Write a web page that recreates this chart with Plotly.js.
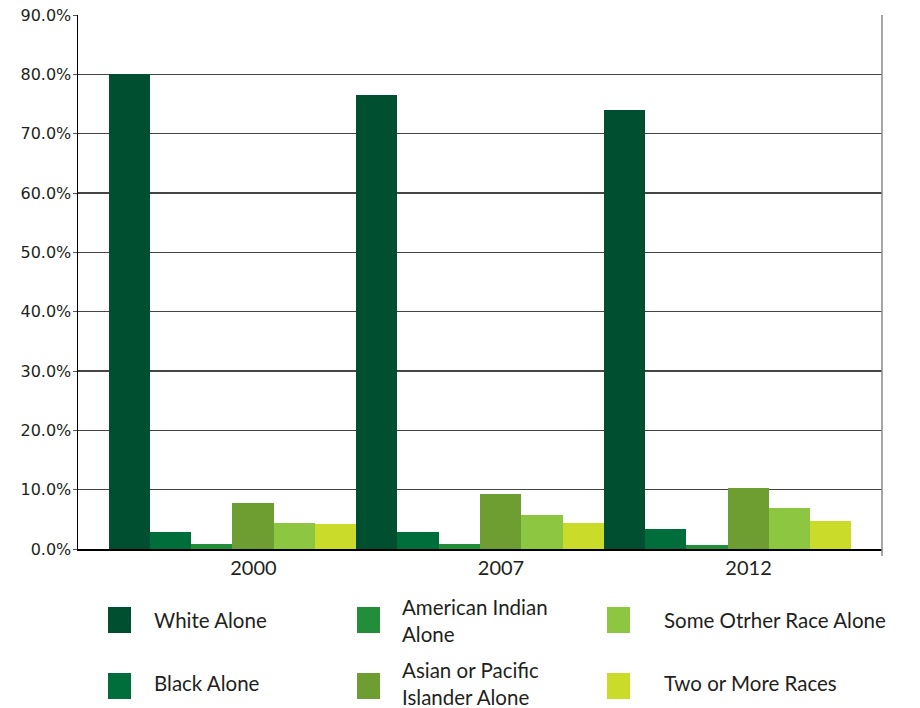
<!DOCTYPE html>
<html>
<head>
<meta charset="utf-8">
<script src="https://cdn.plot.ly/plotly-3.0.1.min.js"></script>
<style>html,body{margin:0;padding:0;background:#fff;}#chart{width:920px;height:708px;}</style>
</head>
<body>
<div id="chart"></div>
<script>
const years = ['2000', '2007', '2012'];
const seriesNames = ['White Alone', 'Black Alone', 'American Indian<br>Alone', 'Asian or Pacific<br>Islander Alone', 'Some Otrher Race Alone', 'Two or More Races'];
const seriesColors = ['#004F30', '#006E3B', '#238E3A', '#6E9E31', '#8DC641', '#CBDB2A'];
const whiteAlone = [80.0, 76.5, 74.0];
const blackAlone = [2.8, 2.9, 3.3];
const americanIndianAlone = [0.9, 0.9, 0.7];
const asianPacificAlone = [7.8, 9.2, 10.3];
const someOtherRaceAlone = [4.4, 5.8, 6.9];
const twoOrMoreRaces = [4.25, 4.4, 4.8];
const yTickVals = [0, 10, 20, 30, 40, 50, 60, 70, 80, 90];
const yTickText = ['0.0%', '10.0%', '20.0%', '30.0%', '40.0%', '50.0%', '60.0%', '70.0%', '80.0%', '90.0%'];

const seriesValues = [whiteAlone, blackAlone, americanIndianAlone, asianPacificAlone, someOtherRaceAlone, twoOrMoreRaces];

const traces = seriesValues.map((vals, i) => ({
  type: 'bar',
  x: years,
  y: vals,
  name: seriesNames[i],
  marker: {color: seriesColors[i], line: {width: 0}},
  showlegend: false,
  hoverinfo: 'x+y'
}));

// plot area in pixels
const L = 78, R = 882, T = 15, B = 549;
const px = v => (v - L) / (R - L);
const py = v => (B - v) / (B - T);

// custom legend (column-major order, 3 columns x 2 rows)
const colSwatchX = [108, 357, 607];
const colTextX = [153, 401, 663];
const rowSwatchY = [620, 686];
const rowTextY = [620, 683];
const shapes = [];
const annotations = [];
seriesNames.forEach((name, i) => {
  const col = Math.floor(i / 2), row = i % 2;
  shapes.push({type: 'rect', xref: 'paper', yref: 'paper',
    x0: px(colSwatchX[col]), x1: px(colSwatchX[col] + 23),
    y0: py(rowSwatchY[row] - 13), y1: py(rowSwatchY[row] + 13),
    fillcolor: seriesColors[i], line: {width: 0}});
  annotations.push({xref: 'paper', yref: 'paper', x: px(colTextX[col]), y: py(rowTextY[row]),
    xanchor: 'left', yanchor: 'middle', align: 'left', showarrow: false, borderpad: 0,
    text: name, font: {family: 'Lato, sans-serif', size: 20.5, color: '#231f20'}});
});
// right border line
shapes.push({type: 'line', xref: 'paper', yref: 'paper', x0: 1, x1: 1, y0: py(556), y1: 1,
  line: {color: '#8a8a8a', width: 1.5}});

const layout = {
  width: 920, height: 708,
  margin: {l: L, r: 920 - R, t: T, b: 708 - B},
  paper_bgcolor: '#ffffff', plot_bgcolor: '#ffffff',
  barmode: 'group', bargap: 0, bargroupgap: 0,
  showlegend: false,
  xaxis: {
    type: 'category', range: [-0.624, 2.624],
    showline: true, linecolor: '#000000', linewidth: 1.5,
    ticks: '', ticklabelshift: 21,
    tickfont: {family: 'Lato, sans-serif', size: 20, color: '#231f20'},
    showgrid: false, zeroline: false
  },
  yaxis: {
    range: [0, 90], tickvals: yTickVals, ticktext: yTickText,
    showline: true, linecolor: '#000000', linewidth: 1.5,
    ticks: 'outside', ticklen: 4, tickcolor: '#555', tickwidth: 1,
    ticklabelstandoff: -2,
    tickfont: {family: 'DejaVu Sans, sans-serif', size: 16, color: '#231f20'},
    showgrid: true, gridcolor: '#454545', gridwidth: 1.5, zeroline: false
  },
  shapes: shapes,
  annotations: annotations
};

Plotly.newPlot('chart', traces, layout, {displayModeBar: false, staticPlot: true});
</script>
</body>
</html>
